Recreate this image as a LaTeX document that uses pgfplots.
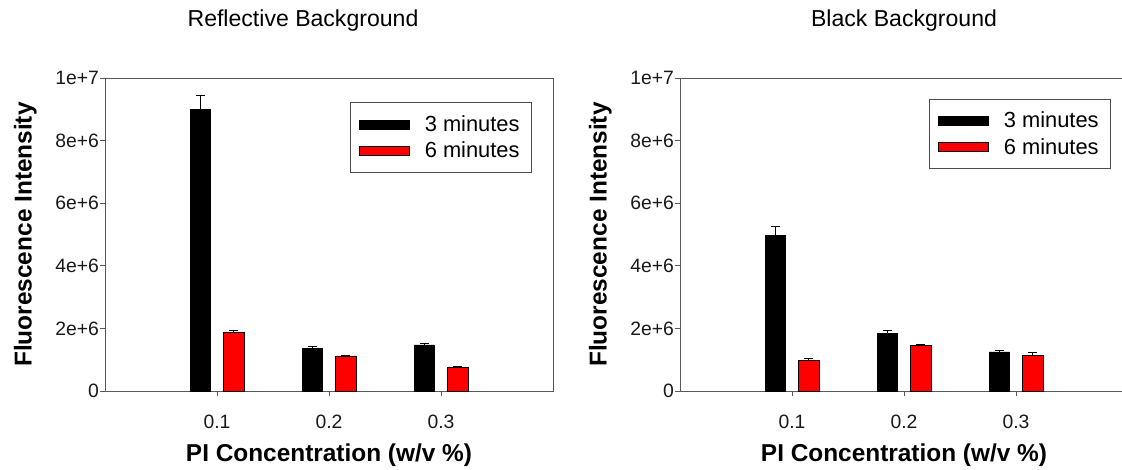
\documentclass[border=0pt]{standalone}
\usepackage{fontspec}
\setmainfont{Liberation Sans}
\usepackage{pgfplots}
\usepackage{pgfplotstable}
\pgfplotsset{compat=1.18}

% reflective background: x, mean, upper error
\pgfplotstableread{
x y e
1 9.00e6 0.45e6
2 1.37e6 0.06e6
3 1.47e6 0.04e6
}\reflThree
\pgfplotstableread{
x y e
1 1.88e6 0.07e6
2 1.12e6 0.03e6
3 0.75e6 0.03e6
}\reflSix
% black background
\pgfplotstableread{
x y e
1 4.96e6 0.30e6
2 1.83e6 0.11e6
3 1.25e6 0.04e6
}\blackThree
\pgfplotstableread{
x y e
1 0.98e6 0.05e6
2 1.45e6 0.05e6
3 1.15e6 0.07e6
}\blackSix

\pgfplotsset{
  panel/.style={
    scale only axis, width=336pt, height=234.75pt,
    anchor=south west,
    xmin=0, xmax=4, ymin=0, ymax=1e7,
    ybar, bar width=15.4pt,
    xtick={1,2,3}, xticklabels={0.1,0.2,0.3},
    ytick={0,2e6,4e6,6e6,8e6,1e7},
    yticklabels={0,2e+6,4e+6,6e+6,8e+6,1e+7},
    scaled y ticks=false,
    tick align=outside, xtick pos=bottom, ytick pos=left,
    major tick length=3.5pt,
    axis line style={black!65, line width=0.6pt},
    every tick/.style={black!65, line width=0.6pt},
    tick label style={font=\fontsize{14.5}{16}\selectfont, black!90},
    xticklabel style={yshift=-11pt},
    yticklabel style={xshift=2.5pt},
    /pgf/number format/assume math mode=true,
    xlabel={PI Concentration (w/v \%)},
    ylabel={Fluorescence Intensity},
    label style={font=\fontsize{18.3}{20}\selectfont\bfseries},
    xlabel style={at={(axis description cs:0.5,0)}, anchor=base, yshift=-53pt},
    ylabel style={at={(axis description cs:-0.1637,0.5)}, anchor=base},
    title style={font=\fontsize{17.3}{20}\selectfont, at={(axis description cs:0.5,1)}, anchor=center, yshift=37pt},
    legend image code/.code={
      \path[draw=none, fill=none] (0pt,0pt) -- (46.5pt,0pt);
      \draw[##1] (-0.5pt,-3.4pt) rectangle (37pt,3.4pt);},
    legend style={font=\fontsize{16.4}{18}\selectfont, draw=black!70, line width=0.6pt,
      anchor=north west, inner xsep=6.5pt, inner ysep=7.5pt, row sep=2.5pt,
      cells={anchor=west}},
    error bars/error bar style={black, line width=0.7pt},
    error bars/error mark options={rotate=90, black, mark size=3.5pt, line width=0.7pt},
  },
  threemin/.style={fill=black, draw=black, line width=0.5pt, bar shift=-12.5pt,
    error bars/.cd, y dir=plus, y explicit},
  sixmin/.style={fill=red, draw=black, line width=0.5pt, bar shift=12.5pt,
    error bars/.cd, y dir=plus, y explicit},
}

\begin{document}
\begin{tikzpicture}
\path[use as bounding box] (0,0) rectangle (841.5pt,351.75pt);

\begin{axis}[panel, at={(78.75pt,58.5pt)},
  title={Reflective Background}, title style={xshift=-19.5pt},
  legend style={at={(axis description cs:0.547,0.922)}}]
\addplot[threemin] table[x=x, y=y, y error=e] {\reflThree};
\addplot[sixmin] table[x=x, y=y, y error=e] {\reflSix};
\legend{3 minutes, 6 minutes}
\end{axis}

\begin{axis}[panel, at={(510pt,58.5pt)},
  title={Black Background},
  legend style={at={(axis description cs:0.556,0.934)}}]
\addplot[threemin] table[x=x, y=y, y error=e] {\blackThree};
\addplot[sixmin] table[x=x, y=y, y error=e] {\blackSix};
\legend{3 minutes, 6 minutes}
\end{axis}
\end{tikzpicture}
\end{document}
